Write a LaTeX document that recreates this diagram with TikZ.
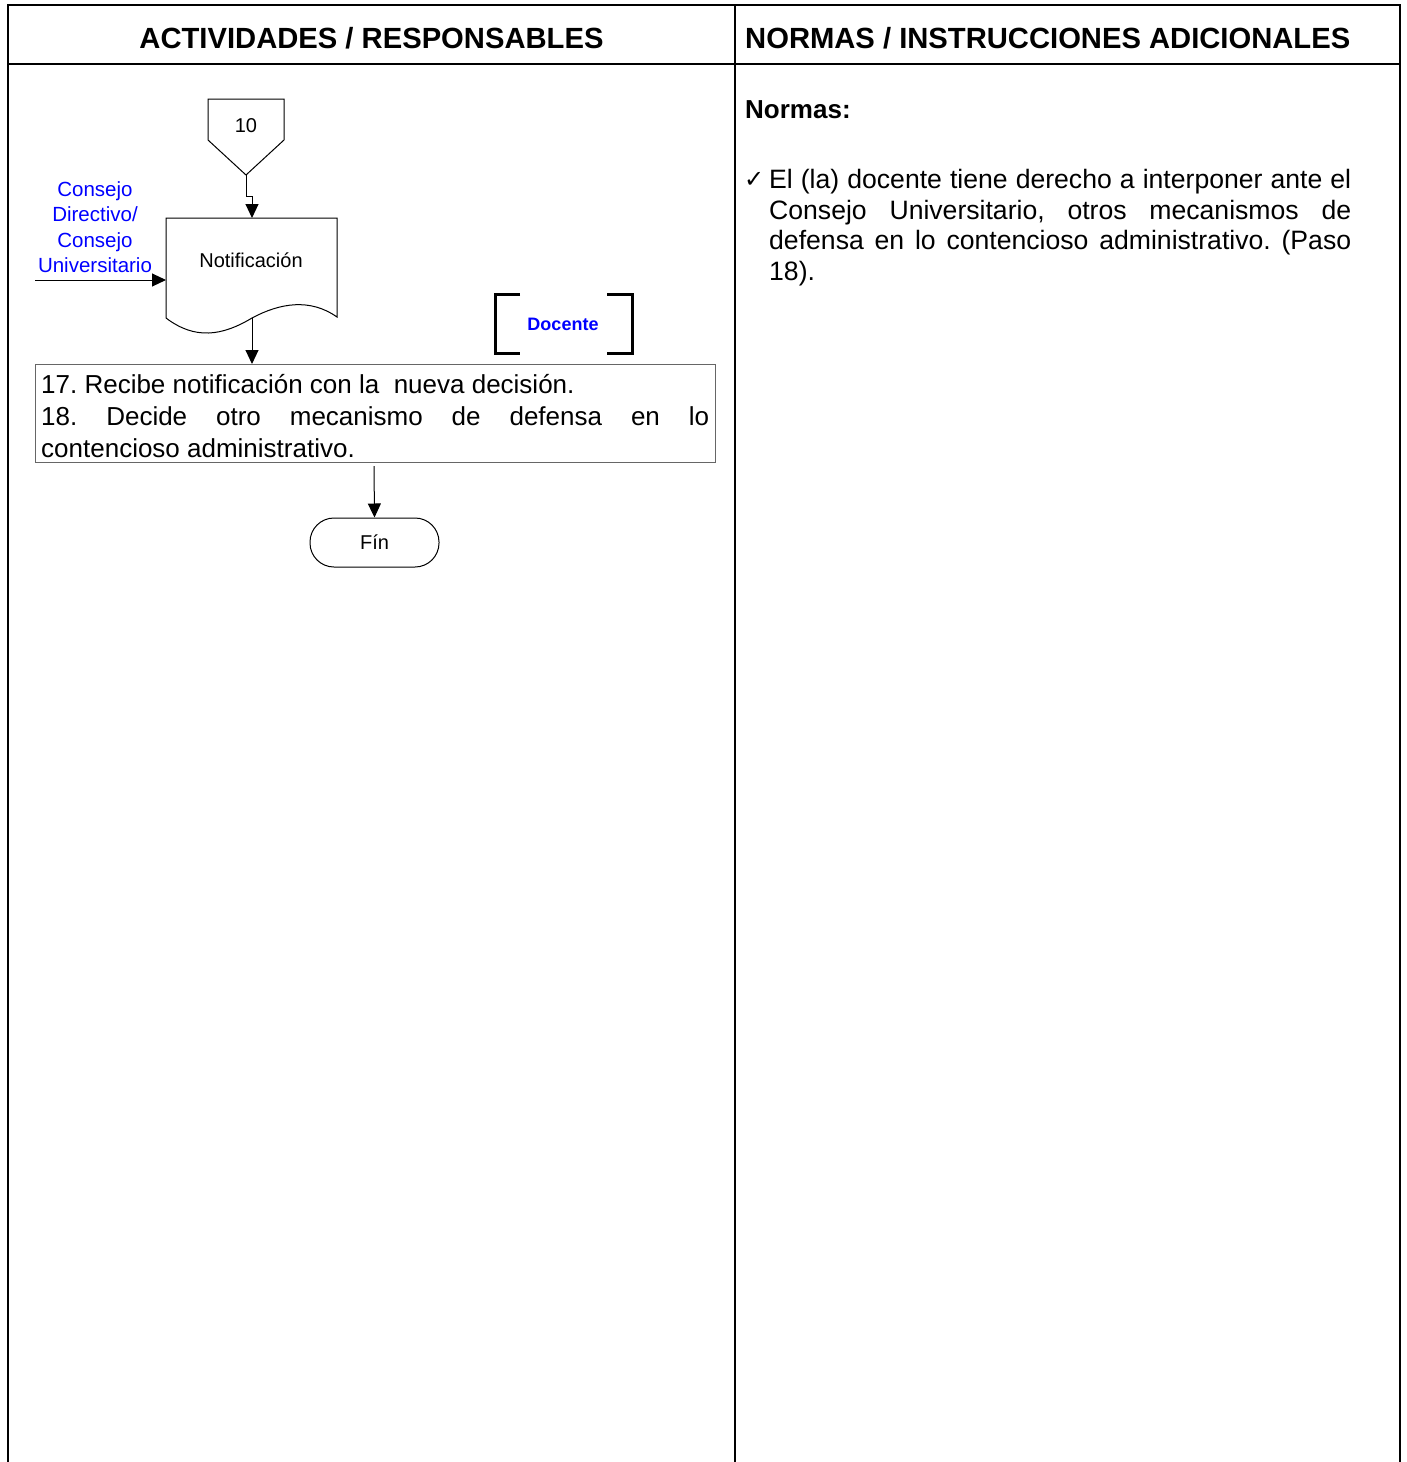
\documentclass[tikz,border=0pt]{standalone}
\usepackage{fontspec}
\setmainfont{Liberation Sans}
\newfontfamily\symfont{DejaVu Sans}
\usetikzlibrary{arrows.meta}
\definecolor{lblue}{RGB}{0,0,255}
\frenchspacing
\begin{document}
\begin{tikzpicture}[x=1pt,y=-1pt,
  tbl/.style={line width=2pt},
  thin/.style={line width=1pt},
  arr/.style={line width=1pt,-{Triangle[length=14pt,width=13pt]}},
  hdr/.style={font=\fontsize{29.2}{34}\selectfont\bfseries,inner sep=0pt},
  brk/.style={line width=3pt}]
\useasboundingbox (0,0) rectangle (1407,1462);
% table
\draw[tbl] (8,1462) -- (8,5) -- (1400,5) -- (1400,1462);
\draw[tbl] (8,64) -- (1400,64);
\draw[tbl] (735,5) -- (735,1462);
\node[hdr] (h1) at (371.5,38) {ACTIVIDADES / RESPONSABLES};
\node[hdr,anchor=west] (h2) at (745,38) {NORMAS / INSTRUCCIONES ADICIONALES};
% right column
\node[anchor=west,inner sep=0pt,font=\fontsize{26}{30}\selectfont\bfseries] (normas) at (745,110) {Normas:};
\node[anchor=west,inner sep=0pt,font=\fontsize{24}{28}\selectfont\symfont] (chk) at (744,180) {✓};
\node[anchor=north west,inner sep=0pt,text width=582pt,align=justify,
  font=\fontsize{26.6}{30.7}\selectfont] (norma1) at (769,169)
  {El (la) docente tiene derecho a interponer ante el\linebreak
   Consejo Universitario, otros mecanismos de\linebreak
   defensa en lo contencioso administrativo. (Paso\linebreak
   18).};
% off-page connector 10
\draw[thin] (208,99) -- (284,99) -- (284,140) -- (246,175) -- (208,140) -- cycle;
\node[inner sep=0pt,font=\fontsize{20}{24}\selectfont] (n10) at (246,126) {10};
\coordinate (c10tip) at (246,175);
% document shape
\draw[thin] (166,318) -- (166,218) -- (337,218) -- (337,317)
  .. controls (310,298) and (280,303) .. (252,318)
  .. controls (222,336) and (195,340) .. (166,318);
\node[inner sep=0pt,font=\fontsize{20}{24}\selectfont] (notif) at (251,260) {Notificación};
\coordinate (docTop) at (252,218);
\coordinate (docBot) at (252,318);
\coordinate (docLeft) at (166,280);
\coordinate (inStart) at (35,280);
\draw[arr] (c10tip) -- (246,196) -- (252,196) -- (docTop);
\draw[arr] (inStart) -- (docLeft);
\node[align=center,inner sep=0pt,text=lblue,font=\fontsize{20.5}{25.5}\selectfont] (consejo) at (95,227)
  {Consejo\\Directivo/\\Consejo\\Universitario};
% Docente bracket
\draw[brk] (520,294) -- (495,294) -- (495,353) -- (520,353);
\draw[brk] (607,294) -- (632,294) -- (632,353) -- (607,353);
\node[inner sep=0pt,text=lblue,font=\fontsize{18}{22}\selectfont\bfseries] (docente) at (563,324) {Docente};
% activity box
\draw[thin,draw=black!60] (35,364) rectangle (715,462);
\node[anchor=north west,inner sep=0pt,text width=668pt,align=justify,
  font=\fontsize{26}{32}\selectfont] (act) at (41,374)
  {17. Recibe notificación con la\ \ nueva decisión.\\
   18. Decide otro mecanismo de defensa en lo\linebreak
   contencioso administrativo.};
\coordinate (boxTop) at (252,364);
\coordinate (boxBot) at (374,466);
\draw[arr] (docBot) -- (boxTop);
% end
\node[draw,thin,rounded corners=24pt,minimum width=129pt,minimum height=49pt,inner sep=0pt,
  font=\fontsize{20}{24}\selectfont] (fin) at (374.5,542.5) {Fín};
\draw[arr] (boxBot) -- (fin.north);
\end{tikzpicture}
\end{document}
